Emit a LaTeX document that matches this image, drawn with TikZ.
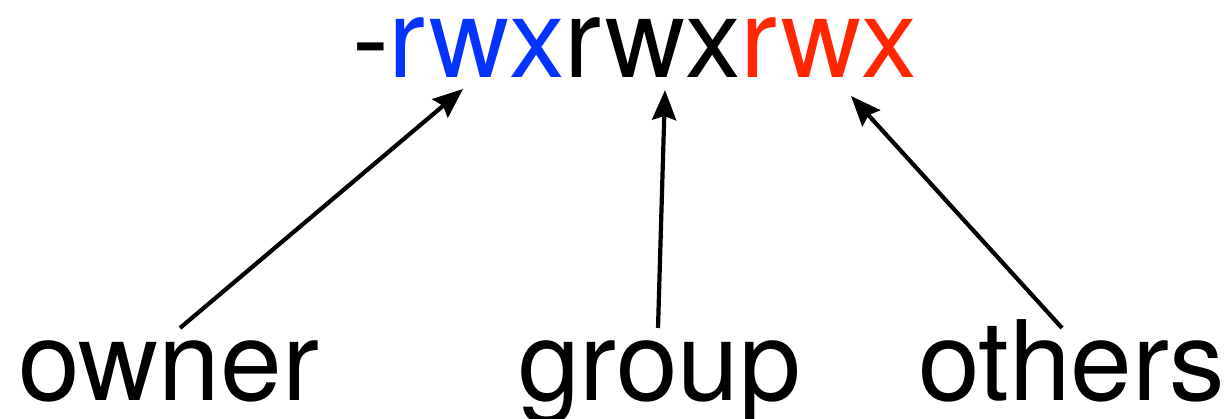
\documentclass[tikz,border=0pt]{standalone}
\usepackage{fontspec}
\setmainfont{TeX Gyre Heros}
\usetikzlibrary{arrows.meta}
\definecolor{permblue}{HTML}{0433FF}
\definecolor{permred}{HTML}{FF2600}
\begin{document}
\begin{tikzpicture}[x=1pt,y=-1pt,
  bits/.style={inner sep=0pt, outer sep=0pt, anchor=base west,
    font=\fontsize{111}{130}\selectfont},
  word/.style={bits},
  pointer/.style={line width=4.2pt, -{Stealth[length=30pt,width=24pt,inset=4pt]}}]
\useasboundingbox (0,0) rectangle (1230,419);
% permission string, split into its three triads
\node[bits] (dash) at (352,78) {-};
\node[bits, text=permblue] (ubits) at (dash.base east) {rwx};
\node[bits] (gbits) at (ubits.base east) {rwx};
\node[bits, text=permred] (obits) at (gbits.base east) {rwx};
% the three classes of users
\node[word] (owner) at (18,400) {owner};
\node[word] (group) at (518,400) {group};
\node[word] (others) at (918,400) {others};
% arrow ends
\coordinate (ownerfrom) at (180,328);
\coordinate (groupfrom) at (658,328);
\coordinate (othersfrom) at (1062,328);
\coordinate (ownerto) at (463,89);
\coordinate (groupto) at (665,90);
\coordinate (othersto) at (851,96);
\draw[pointer] (ownerfrom) -- (ownerto);
\draw[pointer] (groupfrom) -- (groupto);
\draw[pointer] (othersfrom) -- (othersto);
\end{tikzpicture}
\end{document}
